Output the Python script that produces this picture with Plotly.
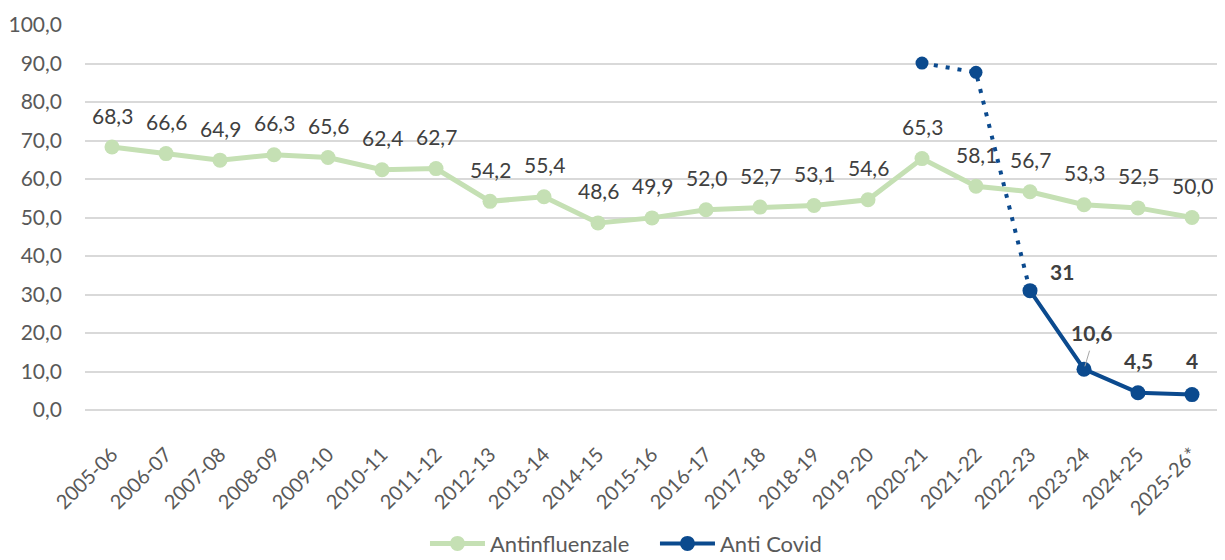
import plotly.graph_objects as go

seasons = ["2005-06","2006-07","2007-08","2008-09","2009-10","2010-11","2011-12","2012-13",
           "2013-14","2014-15","2015-16","2016-17","2017-18","2018-19","2019-20","2020-21",
           "2021-22","2022-23","2023-24","2024-25","2025-26*"]
antinfluenzale = [68.3,66.6,64.9,66.3,65.6,62.4,62.7,54.2,55.4,48.6,49.9,52.0,52.7,53.1,54.6,65.3,
                  58.1,56.7,53.3,52.5,50.0]
covid_seasons_dotted = ["2020-21","2021-22","2022-23"]
covid_dotted = [90.1, 87.7, 31]
covid_seasons = ["2022-23","2023-24","2024-25","2025-26*"]
covid = [31, 10.6, 4.5, 4]
covid_labels = ["31","10,6","4,5","4"]

GREEN = "#C5E0B4"
BLUE = "#0B4A8E"
FONT = "Lato, Carlito, 'Open Sans', sans-serif"

fig = go.Figure()
fig.add_trace(go.Scatter(x=seasons, y=antinfluenzale, mode="lines+markers", name="Antinfluenzale",
                         line=dict(color=GREEN, width=5), marker=dict(color=GREEN, size=15)))
fig.add_trace(go.Scatter(x=covid_seasons_dotted, y=covid_dotted, mode="lines+markers", showlegend=False,
                         line=dict(color=BLUE, width=4, dash="4px,8px"), marker=dict(color=BLUE, size=13)))
fig.add_trace(go.Scatter(x=covid_seasons, y=covid, mode="lines+markers", name="Anti Covid",
                         line=dict(color=BLUE, width=4), marker=dict(color=BLUE, size=15)))

for s, v in zip(seasons, antinfluenzale):
    fig.add_annotation(x=s, y=v, text=f"{v:.1f}".replace(".", ","), showarrow=False, yshift=32,
                       font=dict(size=21, color="#404040", family=FONT))

shifts = [(32, 19), (7, 37), (0, 32), (0, 34)]
for s, v, t, (dx, dy) in zip(covid_seasons, covid, covid_labels, shifts):
    fig.add_annotation(x=s, y=v, text=f"<b>{t}</b>", showarrow=False, xshift=dx, yshift=dy,
                       font=dict(size=21, color="#404040", family=FONT))
# leader line for 10,6
fig.add_annotation(x=covid_seasons[1], y=covid[1], ax=6, ay=-20, showarrow=True, arrowhead=0,
                   arrowwidth=1, arrowcolor="#A6A6A6", text="", standoff=3)

fig.update_layout(
    width=1217, height=552,
    margin=dict(l=77, r=6, t=17, b=150, autoexpand=False),
    plot_bgcolor="white", paper_bgcolor="white",
    separators=",.",
    font=dict(family=FONT, color="#595959", size=20),
    xaxis=dict(type="category", tickangle=-45, showgrid=False, showline=False, ticks="",
               tickfont=dict(size=20, color="#595959"), range=[-0.5, 20.5],
               automargin=False, ticklabelstandoff=28),
    yaxis=dict(range=[0, 100], dtick=10, tickformat=".1f", showgrid=True, gridcolor="#D9D9D9",
               gridwidth=1.5, zeroline=True, zerolinecolor="#D9D9D9", zerolinewidth=1.5,
               tickfont=dict(size=21, color="#595959"), ticks="", ticklabelstandoff=22,
               automargin=False),
    legend=dict(orientation="h", x=0.2998, xanchor="left", y=-0.347, yanchor="middle",
                font=dict(size=22, color="#595959"), itemwidth=55,
                entrywidth=160, entrywidthmode="pixels"),
    showlegend=True,
)
fig.write_html("out.html")
